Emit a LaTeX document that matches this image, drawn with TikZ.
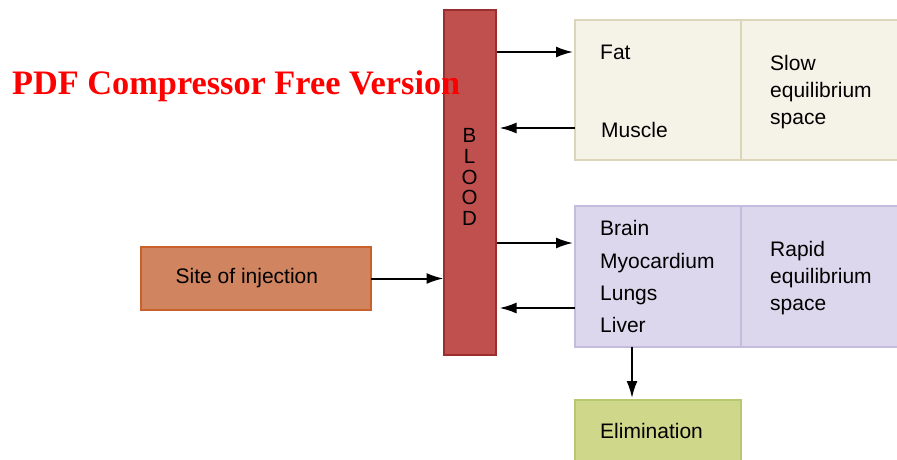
\documentclass[tikz,border=0pt]{standalone}
\usepackage{fontspec}
\setmainfont{Liberation Sans}
\newfontfamily\markfont{Liberation Serif}
\usetikzlibrary{arrows.meta,positioning}

\definecolor{bloodfill}{HTML}{C0504D}
\definecolor{bloodline}{HTML}{9B2F30}
\definecolor{slowfill}{HTML}{F5F2E8}
\definecolor{slowline}{HTML}{DDD5BA}
\definecolor{rapidfill}{HTML}{DCD7EC}
\definecolor{rapidline}{HTML}{C4BCDE}
\definecolor{elimfill}{HTML}{CFD78A}
\definecolor{elimline}{HTML}{B7C86E}
\definecolor{sitefill}{HTML}{D08460}
\definecolor{siteline}{HTML}{C8612C}

\begin{document}
\begin{tikzpicture}[x=1pt, y=-1pt, >={Latex[length=17pt,width=11pt]},
    box/.style={draw, line width=2pt, inner sep=0pt, outer sep=0pt},
    lbl/.style={anchor=west, inner sep=0pt, align=left,
      font=\fontsize{21}{27}\selectfont},
    conn/.style={->, line width=2pt}]

    % frame
    \useasboundingbox (0,0) rectangle (897,460);
    \clip (0,0) rectangle (897,460);

    % blood column
    \node[box, draw=bloodline, fill=bloodfill, minimum width=52pt, minimum height=345pt] (blood) at (469.5,182.5) {};
    \node[align=center, inner sep=0pt, font=\fontsize{20.5}{20.7}\selectfont] (bloodtxt) at (469.5,177) {B\\L\\O\\O\\D};

    % slow equilibrium space
    \node[box, draw=slowline, fill=slowfill, minimum width=166pt, minimum height=140pt] (slowL) at (658,90) {};
    \node[box, draw=slowline, fill=slowfill, minimum width=170pt, minimum height=140pt] (slowR) at (826,90) {};
    \node[lbl] (fat) at (600,52) {Fat};
    \node[lbl] (muscle) at (601,130) {Muscle};
    \node[lbl] (slowtxt) at (770,92.5) {Slow\\equilibrium\\space};

    % rapid equilibrium space
    \node[box, draw=rapidline, fill=rapidfill, minimum width=166pt, minimum height=141pt] (rapidL) at (658,276.5) {};
    \node[box, draw=rapidline, fill=rapidfill, minimum width=170pt, minimum height=141pt] (rapidR) at (826,276.5) {};
    \node[lbl, font=\fontsize{21}{32.2}\selectfont] (organs) at (600,276.6) {Brain\\Myocardium\\Lungs\\Liver};
    \node[lbl] (rapidtxt) at (770,278.5) {Rapid\\equilibrium\\space};

    % elimination
    \node[box, draw=elimline, fill=elimfill, minimum width=166pt, minimum height=70pt] (elim) at (658,435) {};
    \node[lbl] (elimtxt) at (600,431) {Elimination};

    % site of injection
    \node[box, draw=siteline, fill=sitefill, minimum width=230pt, minimum height=63pt] (site) at (256,278.5) {};
    \node[lbl] (sitetxt) at (175.5,278) {Site of injection};

    % arrow levels
    \coordinate (yfat) at (0,52);
    \coordinate (ymus) at (0,128);
    \coordinate (yin) at (0,243);
    \coordinate (yout) at (0,308);
    \coordinate (xel) at (632,0);

    % arrows
    \draw[conn, shorten <=1pt, shorten >=2pt] (blood.east |- yfat) -- (slowL.west |- yfat);
    \draw[conn, shorten >=4pt] (slowL.west |- ymus) -- (blood.east |- ymus);
    \draw[conn, shorten <=1pt, shorten >=2pt] (blood.east |- yin) -- (rapidL.west |- yin);
    \draw[conn, shorten >=4pt] (rapidL.west |- yout) -- (blood.east |- yout);
    \draw[conn] (site.east) -- (blood.west |- site.east);
    \draw[conn, shorten >=2pt] (rapidL.south -| xel) -- (elim.north -| xel);

    % watermark
    \node[anchor=base west, inner sep=0pt, text=red, font=\markfont\bfseries\fontsize{34.3}{40}\selectfont] (mark) at (12,95) {PDF Compressor Free Version};

\end{tikzpicture}
\end{document}
